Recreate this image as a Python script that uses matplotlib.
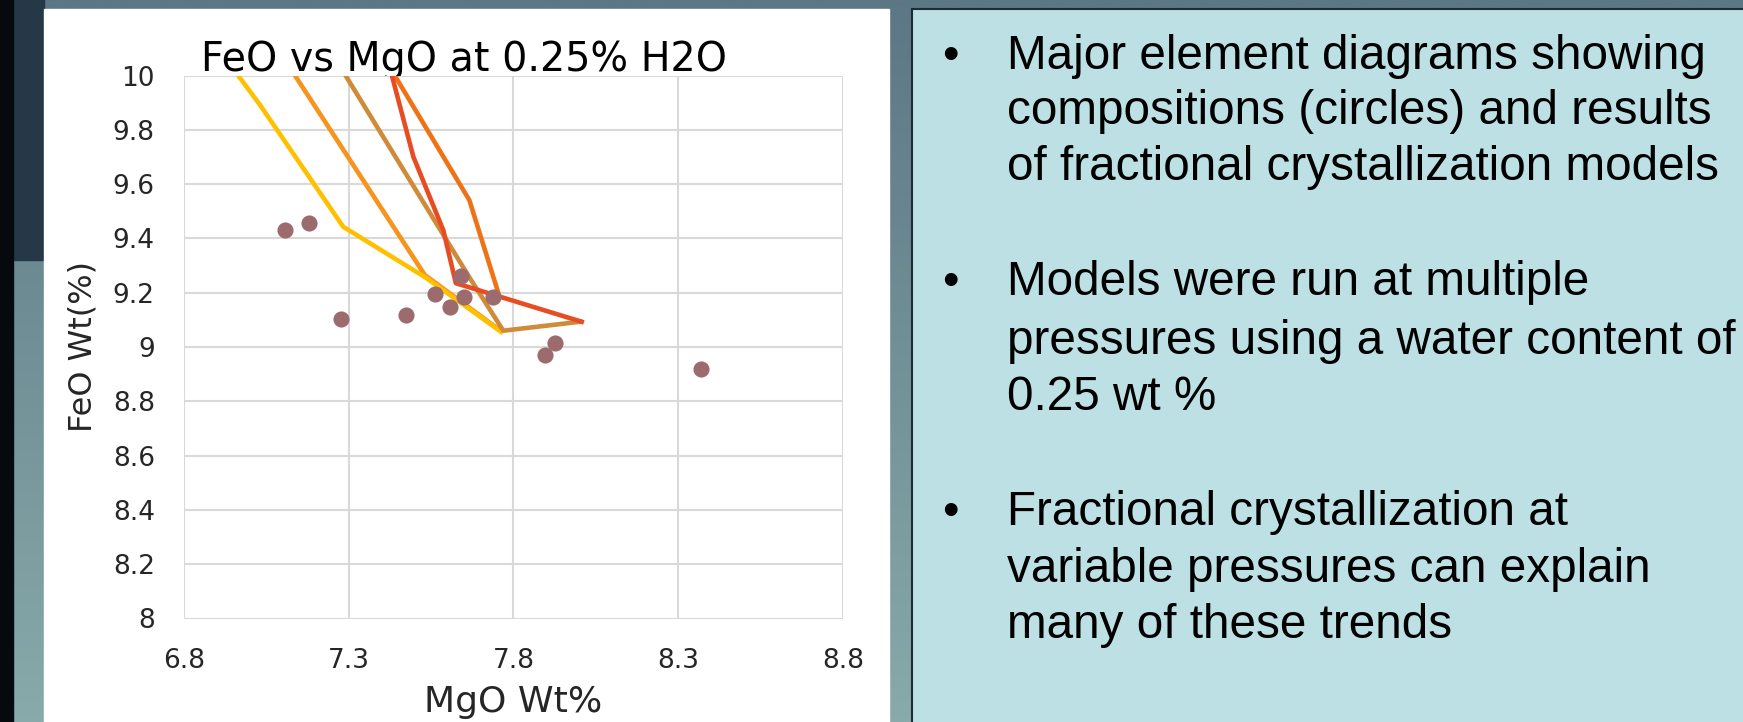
import numpy as np
import matplotlib
matplotlib.use("Agg")
import matplotlib.pyplot as plt
from matplotlib.patches import Rectangle
from matplotlib.colors import to_rgb

W, H = 1743, 722

# sample compositions (circles)
sample_mgo = [7.107, 7.179, 7.276, 7.474, 7.563, 7.606, 7.640, 7.649, 7.738, 7.927, 7.897, 8.369]
sample_feo = [9.431, 9.456, 9.102, 9.117, 9.195, 9.146, 9.262, 9.185, 9.185, 9.014, 8.971, 8.919]

# fractional crystallization model paths
yellow_mgo = [6.94, 7.031, 7.283, 7.537, 7.762]
yellow_feo = [10.04, 9.891, 9.443, 9.253, 9.056]
lorange_mgo = [7.11, 7.531, 7.762]
lorange_feo = [10.05, 9.265, 9.059]
tan_mgo = [7.265, 7.668, 7.769, 8.002]
tan_feo = [10.05, 9.253, 9.060, 9.093]
orange_mgo = [7.41, 7.666, 7.754]
orange_feo = [10.06, 9.541, 9.199]
red_mgo = [7.42, 7.496, 7.587, 7.625, 8.007]
red_feo = [10.05, 9.701, 9.430, 9.235, 9.093]

x_ticks = [6.8, 7.3, 7.8, 8.3, 8.8]
y_ticks = [8, 8.2, 8.4, 8.6, 8.8, 9, 9.2, 9.4, 9.6, 9.8, 10]
y_labels = ["8", "8.2", "8.4", "8.6", "8.8", "9", "9.2", "9.4", "9.6", "9.8", "10"]

bullets = [
    ["Major element diagrams showing", "compositions (circles) and results",
     "of fractional crystallization models"],
    ["Models were run at multiple", "pressures using a water content of", "0.25 wt %"],
    ["Fractional crystallization at", "variable pressures can explain", "many of these trends"],
]
bullet_baselines = [[69, 124, 180], [295, 354, 410], [525, 582, 638]]

fig = plt.figure(figsize=(W / 100, H / 100), dpi=100)

# slide background
bg = fig.add_axes([0, 0, 1, 1], zorder=-1)
bg.set_xlim(0, W)
bg.set_ylim(H, 0)
bg.axis("off")
top, bottom = np.array(to_rgb("#5C7785")), np.array(to_rgb("#88AAAA"))
t = np.linspace(0, 1, 64)[:, None, None]
grad = top * (1 - t) + bottom * t
bg.imshow(grad, extent=[0, W, H, 0], aspect="auto", interpolation="bilinear")
bg.add_patch(Rectangle((13, 0), 31, 260, color="#243848"))
bg.add_patch(Rectangle((0, 0), 13, H, color="#06090d"))
bg.add_patch(Rectangle((44, 9), 845, H, color="white"))
bg.add_patch(Rectangle((912, 9), 840, H, facecolor="#BCE0E4", edgecolor="#1F2B33", lw=1.5))

for lines, bases in zip(bullets, bullet_baselines):
    bg.text(950, bases[0], "•", ha="center", va="baseline", fontsize=34,
            family="Liberation Sans", color="black")
    for line, b in zip(lines, bases):
        bg.text(1007, b, line, ha="left", va="baseline", fontsize=34.3,
                family="Liberation Sans", color="black")

# chart
ax = fig.add_axes([184 / W, 1 - 618.5 / H, 659 / W, 543 / H])
ax.set_facecolor("white")
ax.set_xlim(6.8, 8.8)
ax.set_ylim(8, 10)
ax.set_xticks(x_ticks)
ax.set_xticklabels([str(v) for v in x_ticks])
ax.set_yticks(y_ticks)
ax.set_yticklabels(y_labels)
ax.grid(True, color="#D9D9D9", lw=1.5)
ax.set_axisbelow(True)
for s in ax.spines.values():
    s.set_visible(False)
ax.tick_params(length=0, labelsize=19, labelcolor="#262626", pad=21)

lw = 3.3
ax.plot(lorange_mgo, lorange_feo, color="#F7941D", lw=lw)
ax.plot(yellow_mgo, yellow_feo, color="#FFC000", lw=lw)
ax.plot(tan_mgo, tan_feo, color="#D08B3A", lw=lw)
ax.plot(orange_mgo, orange_feo, color="#EE7317", lw=lw)
ax.plot(red_mgo, red_feo, color="#E84C22", lw=lw)
ax.scatter(sample_mgo, sample_feo, s=135, color="#9C6B6E", zorder=5, linewidths=0)

ax.set_xlabel("MgO Wt%", fontsize=26, color="#262626", labelpad=8)
ax.set_ylabel("FeO Wt(%)", fontsize=23, color="#262626", labelpad=10)

bg.text(201, 71.4, "FeO vs MgO at 0.25% H2O", ha="left", va="baseline",
        fontsize=28.5, color="black")

fig.savefig("out.png", dpi=100)
